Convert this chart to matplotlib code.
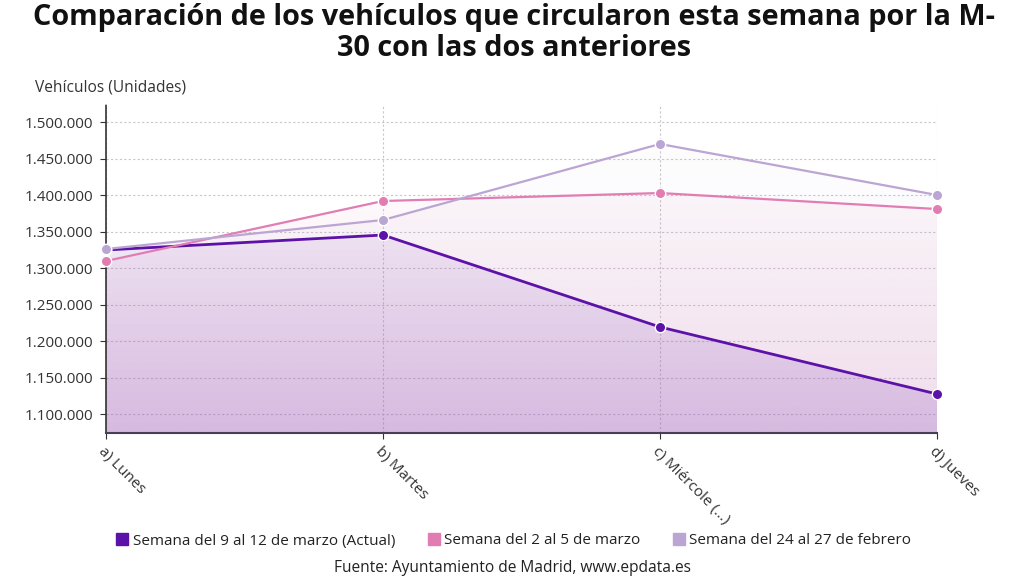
import matplotlib
matplotlib.use("Agg")
import matplotlib.pyplot as plt
import numpy as np
from matplotlib.colors import to_rgb
from matplotlib.ticker import FuncFormatter, FixedLocator
from matplotlib.lines import Line2D

plt.rcParams['font.family'] = ['Open Sans', 'DejaVu Sans']

categories = ["a) Lunes", "b) Martes", "c) Miércole (...)", "d) Jueves"]
series_names = ["Semana del 9 al 12 de marzo (Actual)",
                "Semana del 2 al 5 de marzo",
                "Semana del 24 al 27 de febrero"]
actual = [1324700, 1345200, 1219200, 1127400]
marzo_2_5 = [1309600, 1391800, 1402700, 1380800]
feb_24_27 = [1326000, 1365800, 1469900, 1400000]
colors = ["#5c12a8", "#e17db3", "#bba5d3"]
yticks = [1100000, 1150000, 1200000, 1250000, 1300000, 1350000, 1400000, 1450000, 1500000]

fig = plt.figure(figsize=(10.24, 5.76), dpi=100)
ax = fig.add_axes([106/1024, 1-433/576, (937-106)/1024, (433-105)/576])
ymin, ymax = 1074000, 1523300
x = np.arange(len(categories))
ax.set_xlim(0, len(categories)-1)
ax.set_ylim(ymin, ymax)

for vals, c in zip([feb_24_27, marzo_2_5, actual], [colors[2], colors[1], colors[0]]):
    poly = ax.fill_between(x, vals, ymin, facecolor='none', edgecolor='none')
    rgb = to_rgb(c)
    n = 256
    grad = np.zeros((n, 2, 4))
    grad[:, :, 0] = rgb[0]
    grad[:, :, 1] = rgb[1]
    grad[:, :, 2] = rgb[2]
    grad[:, :, 3] = np.linspace(0.0, 0.17, n)[:, None]
    im = ax.imshow(grad, extent=[0, len(categories)-1, ymin, ymax], origin='upper',
                   aspect='auto', zorder=1, interpolation='bilinear')
    im.set_clip_path(poly.get_paths()[0], transform=ax.transData)

for vals, c, lw, name in zip([actual, marzo_2_5, feb_24_27], colors, [2.0, 1.6, 1.6], series_names):
    ax.plot(x, vals, color=c, lw=lw, marker='o', markersize=7.5,
            markeredgecolor='white', markeredgewidth=1.0, zorder=4, label=name,
            clip_on=False)

ax.yaxis.set_major_locator(FixedLocator(yticks))
ax.yaxis.set_major_formatter(FuncFormatter(lambda v, p: f"{int(v):,}".replace(",", ".")))
ax.set_xticks(x)
ax.set_xticklabels(categories, rotation=-45, ha='left', rotation_mode='anchor',
                   fontsize=11, color='#333333')
ax.tick_params(axis='y', labelsize=11, labelcolor='#333333', length=4, color='#333333', width=0.8, pad=5)
ax.tick_params(axis='x', length=4, color='#333333', width=0.8, pad=4)

ax.grid(True, which='major', axis='both', color='#c8c8c8', linestyle=(0, (2, 2)), linewidth=0.8, zorder=0)
ax.set_axisbelow(True)
for s in ['top', 'right']:
    ax.spines[s].set_visible(False)
ax.spines['left'].set_linestyle((0, (1.5, 1)))
ax.spines['left'].set_color('#333333')
ax.spines['left'].set_linewidth(1.2)
ax.spines['bottom'].set_color('#4a3f58')
ax.spines['bottom'].set_linewidth(1.5)

fig.text(35/1024, 1-88/576, "Vehículos (Unidades)", fontsize=11.2, color='#333333', va='center', ha='left')

fig.text(514/1024, 1-17/576, "Comparación de los vehículos que circularon esta semana por la M-",
         fontsize=20.8, fontweight='bold', ha='center', va='center', color='#111111')
fig.text(514/1024, 1-48/576, "30 con las dos anteriores",
         fontsize=20.8, fontweight='bold', ha='center', va='center', color='#111111')

handles = [Line2D([0], [0], marker='s', linestyle='none', markersize=8, markerfacecolor=c,
                  markeredgecolor=c) for c in colors]
fig.legend(handles, series_names, loc='center', bbox_to_anchor=(513/1024, 1-541/576),
           ncol=3, frameon=False, fontsize=11, handletextpad=0.2, columnspacing=2.0,
           handlelength=1.0, labelcolor='#222222')

fig.text(513/1024, 1-568/576, "Fuente: Ayuntamiento de Madrid, www.epdata.es",
         fontsize=11.2, ha='center', va='center', color='#222222')

fig.savefig("out.png", dpi=100)
